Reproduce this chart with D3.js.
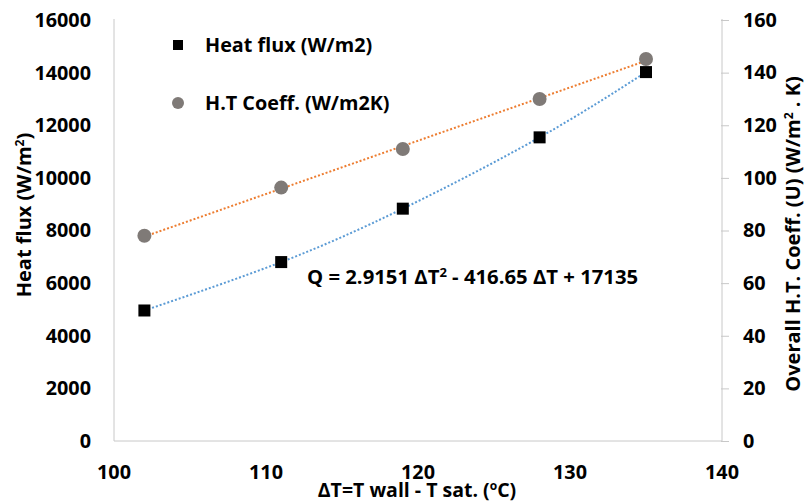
<!DOCTYPE html>
<html>
<head>
<meta charset="utf-8">
<script src="https://cdn.jsdelivr.net/npm/d3@7"></script>
<style>
  body { margin: 0; background: #fff; }
  svg { display: block; font-family: "Open Sans", Lato, sans-serif; font-weight: bold; }
</style>
</head>
<body>
<div id="chart"></div>
<script>
// Data
const deltaT = [102, 111, 119, 128, 135];
const heatFlux = [4960, 6800, 8830, 11540, 14020];
const htCoeff = [78, 96.3, 111, 130, 145.2];
const xTicks = [100, 110, 120, 130, 140];
const yLeftTicks = [0, 2000, 4000, 6000, 8000, 10000, 12000, 14000, 16000];
const yRightTicks = [0, 20, 40, 60, 80, 100, 120, 140, 160];

const width = 805, height = 502;
const plot = { left: 114, right: 722, top: 20, bottom: 441 };
const tickFont = 19.8;

const svg = d3.select("#chart").append("svg")
    .attr("width", width)
    .attr("height", height);

const x = d3.scaleLinear().domain([100, 140]).range([plot.left, plot.right]);
const yL = d3.scaleLinear().domain([0, 16000]).range([plot.bottom, plot.top]);
const yR = d3.scaleLinear().domain([0, 160]).range([plot.bottom, plot.top]);

// Axis lines
const axisColor = "#c8c8c8";
svg.append("line")
    .attr("x1", plot.left).attr("x2", plot.left)
    .attr("y1", plot.top - 1).attr("y2", plot.bottom)
    .attr("stroke", axisColor);
svg.append("line")
    .attr("x1", plot.left).attr("x2", plot.right)
    .attr("y1", plot.bottom).attr("y2", plot.bottom)
    .attr("stroke", axisColor);

// Left tick labels
svg.append("g").selectAll("text")
    .data(yLeftTicks)
    .join("text")
    .attr("x", 91)
    .attr("y", d => yL(d))
    .attr("dy", "0.35em")
    .attr("text-anchor", "end")
    .attr("font-size", tickFont)
    .text(d => d);

// Right axis with outward ticks
const rightAxis = d3.axisRight(yR)
    .tickValues(yRightTicks)
    .tickSize(7)
    .tickPadding(14)
    .tickFormat(d3.format("d"));
const gR = svg.append("g")
    .attr("transform", `translate(${plot.right},0)`)
    .call(rightAxis);
gR.select(".domain").attr("stroke", axisColor).attr("d", `M0,${plot.top - 1}V${plot.bottom}`);
gR.selectAll(".tick line").attr("stroke", axisColor).attr("x1", -1);
gR.selectAll(".tick text")
    .attr("font-size", tickFont)
    .attr("font-family", "'Open Sans', sans-serif")
    .attr("font-weight", "bold")
    .attr("fill", "#000");

// X tick labels
svg.append("g").selectAll("text")
    .data(xTicks)
    .join("text")
    .attr("x", d => x(d))
    .attr("y", 472)
    .attr("dy", "0.35em")
    .attr("text-anchor", "middle")
    .attr("font-size", tickFont)
    .text(d => d);

// Axis titles
svg.append("text")
    .attr("x", 417)
    .attr("y", 497)
    .attr("text-anchor", "middle")
    .attr("font-size", 19.5)
    .html("ΔT=T wall - T sat. (<tspan font-size='12' dy='-7'>o</tspan><tspan dy='7'>C)</tspan>");

svg.append("text")
    .attr("transform", "translate(31,215) rotate(-90)")
    .attr("text-anchor", "middle")
    .attr("font-size", 20)
    .html("Heat flux (W/m<tspan font-size='12' dy='-7'>2</tspan><tspan dy='7'>)</tspan>");

svg.append("text")
    .attr("transform", "translate(800,234) rotate(-90)")
    .attr("text-anchor", "middle")
    .attr("font-size", 20)
    .html("Overall H.T. Coeff. (U) (W/m<tspan font-size='12' dy='-7'>2</tspan><tspan dy='7'> . K)</tspan>");

// Trendlines
const fluxLine = d3.line()
    .x((d, i) => x(deltaT[i]))
    .y(d => yL(d))
    .curve(d3.curveNatural);
svg.append("path")
    .attr("d", fluxLine(heatFlux))
    .attr("fill", "none")
    .attr("stroke", "#5b9bd5")
    .attr("stroke-width", 2)
    .attr("stroke-dasharray", "2 2");

// linear fit for the coefficient series
const mx = d3.mean(deltaT), my = d3.mean(htCoeff);
const slope = d3.sum(deltaT, (t, i) => (t - mx) * (htCoeff[i] - my)) / d3.sum(deltaT, t => (t - mx) ** 2);
const fitU = t => my + slope * (t - mx);
const tExt = d3.extent(deltaT);
svg.append("path")
    .attr("d", d3.line()(tExt.map(t => [x(t), yR(fitU(t))])))
    .attr("fill", "none")
    .attr("stroke", "#ed7d31")
    .attr("stroke-width", 2)
    .attr("stroke-dasharray", "2 2");

// Markers
const circleColor = "#7f7a77";
svg.append("g").selectAll("circle")
    .data(htCoeff)
    .join("circle")
    .attr("cx", (d, i) => x(deltaT[i]))
    .attr("cy", d => yR(d))
    .attr("r", 7)
    .attr("fill", circleColor);

const sq = 12;
svg.append("g").selectAll("rect")
    .data(heatFlux)
    .join("rect")
    .attr("x", (d, i) => x(deltaT[i]) - sq / 2)
    .attr("y", d => yL(d) - sq / 2)
    .attr("width", sq)
    .attr("height", sq)
    .attr("fill", "#000");

// Legend
svg.append("rect")
    .attr("x", 173).attr("y", 40)
    .attr("width", 10).attr("height", 10)
    .attr("fill", "#000");
svg.append("text")
    .attr("x", 205).attr("y", 45)
    .attr("dy", "0.35em")
    .attr("font-size", tickFont)
    .text("Heat flux (W/m2)");
svg.append("circle")
    .attr("cx", 178).attr("cy", 103)
    .attr("r", 6)
    .attr("fill", circleColor);
svg.append("text")
    .attr("x", 205).attr("y", 103)
    .attr("dy", "0.35em")
    .attr("font-size", tickFont)
    .text("H.T Coeff. (W/m2K)");

// Equation
svg.append("text")
    .attr("x", 307).attr("y", 284)
    .attr("font-size", 20.3)
    .html("Q = 2.9151 ΔT<tspan font-size='13' dy='-7'>2</tspan><tspan dy='7'> - 416.65 ΔT + 17135</tspan>");
</script>
</body>
</html>
